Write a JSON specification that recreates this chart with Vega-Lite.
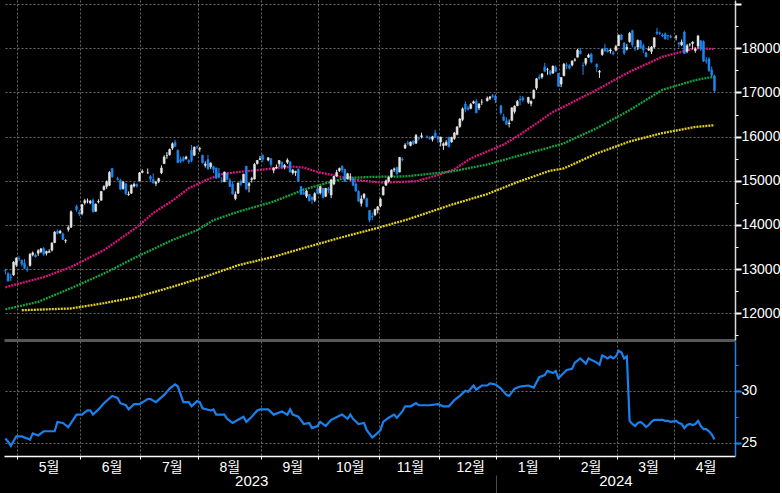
{
"$schema": "https://vega.github.io/schema/vega-lite/v6.json",
"background": "#000000",
"padding": 0,
"spacing": 1,
"bounds": "flush",
"config": {"view": {"stroke": null}, "axis": {"labelFont": "Liberation Sans, Noto Sans CJK KR", "labelColor": "#ffffff", "gridColor": "#6b6b6b", "gridDash": [2, 2], "gridWidth": 1, "labelOverlap": false, "labelBound": false}},
"datasets": {
"candles": [
{"d":"2023-04-24","o":12970,"h":13010,"l":12880,"c":12960},
{"d":"2023-04-25","o":12900,"h":12930,"l":12720,"c":12730},
{"d":"2023-04-26","o":12820,"h":12900,"l":12730,"c":12810},
{"d":"2023-04-27","o":12870,"h":13180,"l":12850,"c":13160},
{"d":"2023-04-28","o":13100,"h":13270,"l":13050,"c":13250},
{"d":"2023-05-01","o":13240,"h":13290,"l":13180,"c":13230},
{"d":"2023-05-02","o":13200,"h":13220,"l":13060,"c":13110},
{"d":"2023-05-03","o":13130,"h":13230,"l":13000,"c":13020},
{"d":"2023-05-04","o":13000,"h":13060,"l":12940,"c":12980},
{"d":"2023-05-05","o":13080,"h":13360,"l":13060,"c":13340},
{"d":"2023-05-08","o":13330,"h":13400,"l":13290,"c":13370},
{"d":"2023-05-09","o":13320,"h":13350,"l":13260,"c":13280},
{"d":"2023-05-10","o":13360,"h":13450,"l":13300,"c":13420},
{"d":"2023-05-11","o":13400,"h":13480,"l":13360,"c":13460},
{"d":"2023-05-12","o":13470,"h":13500,"l":13300,"c":13340},
{"d":"2023-05-15","o":13360,"h":13420,"l":13310,"c":13400},
{"d":"2023-05-16","o":13380,"h":13450,"l":13370,"c":13400},
{"d":"2023-05-17","o":13430,"h":13610,"l":13400,"c":13590},
{"d":"2023-05-18","o":13600,"h":13860,"l":13590,"c":13840},
{"d":"2023-05-19","o":13860,"h":13900,"l":13790,"c":13810},
{"d":"2023-05-22","o":13820,"h":13890,"l":13800,"c":13860},
{"d":"2023-05-23","o":13800,"h":13830,"l":13660,"c":13670},
{"d":"2023-05-24","o":13640,"h":13680,"l":13590,"c":13650},
{"d":"2023-05-25","o":13900,"h":13990,"l":13850,"c":13940},
{"d":"2023-05-26","o":13950,"h":14330,"l":13930,"c":14300},
{"d":"2023-05-30","o":14420,"h":14460,"l":14300,"c":14350},
{"d":"2023-05-31","o":14280,"h":14340,"l":14200,"c":14250},
{"d":"2023-06-01","o":14260,"h":14480,"l":14220,"c":14460},
{"d":"2023-06-02","o":14500,"h":14590,"l":14460,"c":14550},
{"d":"2023-06-05","o":14540,"h":14600,"l":14490,"c":14540},
{"d":"2023-06-06","o":14500,"h":14570,"l":14470,"c":14540},
{"d":"2023-06-07","o":14560,"h":14600,"l":14280,"c":14300},
{"d":"2023-06-08","o":14310,"h":14490,"l":14300,"c":14470},
{"d":"2023-06-09","o":14520,"h":14580,"l":14490,"c":14530},
{"d":"2023-06-12","o":14560,"h":14770,"l":14550,"c":14760},
{"d":"2023-06-13","o":14800,"h":14900,"l":14780,"c":14870},
{"d":"2023-06-14","o":14870,"h":15010,"l":14820,"c":14980},
{"d":"2023-06-15","o":14900,"h":15220,"l":14880,"c":15190},
{"d":"2023-06-16","o":15280,"h":15290,"l":15070,"c":15090},
{"d":"2023-06-20","o":15050,"h":15090,"l":15010,"c":15030},
{"d":"2023-06-21","o":15010,"h":15050,"l":14790,"c":14810},
{"d":"2023-06-22","o":14820,"h":15000,"l":14800,"c":14970},
{"d":"2023-06-23","o":14930,"h":14950,"l":14680,"c":14710},
{"d":"2023-06-26","o":14690,"h":14760,"l":14660,"c":14700},
{"d":"2023-06-27","o":14720,"h":14920,"l":14700,"c":14900},
{"d":"2023-06-28","o":14880,"h":14960,"l":14850,"c":14920},
{"d":"2023-06-29","o":14920,"h":14940,"l":14850,"c":14880},
{"d":"2023-06-30","o":15000,"h":15200,"l":14990,"c":15180},
{"d":"2023-07-03","o":15190,"h":15260,"l":15170,"c":15220},
{"d":"2023-07-05","o":15180,"h":15280,"l":15160,"c":15180},
{"d":"2023-07-06","o":15100,"h":15130,"l":14980,"c":15040},
{"d":"2023-07-07","o":15030,"h":15170,"l":14940,"c":14950},
{"d":"2023-07-10","o":14940,"h":15000,"l":14880,"c":14970},
{"d":"2023-07-11","o":14990,"h":15070,"l":14950,"c":15050},
{"d":"2023-07-12","o":15180,"h":15350,"l":15150,"c":15290},
{"d":"2023-07-13","o":15390,"h":15580,"l":15380,"c":15540},
{"d":"2023-07-14","o":15570,"h":15650,"l":15500,"c":15570},
{"d":"2023-07-17","o":15590,"h":15730,"l":15570,"c":15710},
{"d":"2023-07-18","o":15740,"h":15870,"l":15700,"c":15840},
{"d":"2023-07-19","o":15870,"h":15930,"l":15770,"c":15780},
{"d":"2023-07-20","o":15690,"h":15710,"l":15400,"c":15410},
{"d":"2023-07-21","o":15480,"h":15550,"l":15400,"c":15440},
{"d":"2023-07-24","o":15520,"h":15560,"l":15430,"c":15460},
{"d":"2023-07-25","o":15500,"h":15570,"l":15480,"c":15540},
{"d":"2023-07-26","o":15460,"h":15490,"l":15380,"c":15430},
{"d":"2023-07-27","o":15690,"h":15810,"l":15420,"c":15460},
{"d":"2023-07-28","o":15580,"h":15780,"l":15560,"c":15760},
{"d":"2023-07-31","o":15770,"h":15800,"l":15720,"c":15760},
{"d":"2023-08-01","o":15720,"h":15770,"l":15660,"c":15730},
{"d":"2023-08-02","o":15580,"h":15590,"l":15390,"c":15410},
{"d":"2023-08-03","o":15350,"h":15440,"l":15300,"c":15380},
{"d":"2023-08-04","o":15480,"h":15590,"l":15250,"c":15270},
{"d":"2023-08-07","o":15320,"h":15420,"l":15270,"c":15400},
{"d":"2023-08-08","o":15320,"h":15340,"l":15170,"c":15260},
{"d":"2023-08-09","o":15290,"h":15300,"l":15040,"c":15060},
{"d":"2023-08-10","o":15170,"h":15290,"l":15060,"c":15080},
{"d":"2023-08-11","o":15000,"h":15080,"l":14960,"c":14990},
{"d":"2023-08-14","o":14980,"h":15210,"l":14970,"c":15200},
{"d":"2023-08-15","o":15170,"h":15190,"l":15010,"c":15030},
{"d":"2023-08-16","o":15010,"h":15060,"l":14860,"c":14870},
{"d":"2023-08-17","o":14920,"h":14990,"l":14690,"c":14700},
{"d":"2023-08-18","o":14600,"h":14760,"l":14560,"c":14690},
{"d":"2023-08-21","o":14720,"h":14960,"l":14700,"c":14950},
{"d":"2023-08-22","o":14990,"h":15030,"l":14880,"c":14920},
{"d":"2023-08-23","o":14960,"h":15160,"l":14950,"c":15150},
{"d":"2023-08-24","o":15330,"h":15340,"l":14800,"c":14810},
{"d":"2023-08-25","o":14890,"h":14970,"l":14740,"c":14940},
{"d":"2023-08-28","o":15030,"h":15090,"l":14960,"c":15050},
{"d":"2023-08-29","o":15040,"h":15400,"l":15030,"c":15370},
{"d":"2023-08-30","o":15390,"h":15470,"l":15370,"c":15460},
{"d":"2023-08-31","o":15480,"h":15560,"l":15470,"c":15500},
{"d":"2023-09-01","o":15580,"h":15600,"l":15420,"c":15480},
{"d":"2023-09-05","o":15470,"h":15540,"l":15440,"c":15520},
{"d":"2023-09-06","o":15500,"h":15510,"l":15310,"c":15370},
{"d":"2023-09-07","o":15240,"h":15310,"l":15170,"c":15290},
{"d":"2023-09-08","o":15290,"h":15370,"l":15270,"c":15310},
{"d":"2023-09-11","o":15390,"h":15470,"l":15320,"c":15460},
{"d":"2023-09-12","o":15420,"h":15440,"l":15280,"c":15290},
{"d":"2023-09-13","o":15310,"h":15380,"l":15260,"c":15350},
{"d":"2023-09-14","o":15420,"h":15510,"l":15380,"c":15470},
{"d":"2023-09-15","o":15430,"h":15440,"l":15190,"c":15200},
{"d":"2023-09-18","o":15180,"h":15270,"l":15140,"c":15240},
{"d":"2023-09-19","o":15190,"h":15230,"l":15110,"c":15210},
{"d":"2023-09-20","o":15260,"h":15280,"l":14980,"c":14990},
{"d":"2023-09-21","o":14870,"h":14880,"l":14690,"c":14690},
{"d":"2023-09-22","o":14730,"h":14830,"l":14680,"c":14700},
{"d":"2023-09-25","o":14650,"h":14790,"l":14610,"c":14770},
{"d":"2023-09-26","o":14690,"h":14700,"l":14530,"c":14550},
{"d":"2023-09-27","o":14620,"h":14650,"l":14470,"c":14580},
{"d":"2023-09-28","o":14560,"h":14740,"l":14520,"c":14710},
{"d":"2023-09-29","o":14820,"h":14860,"l":14700,"c":14720},
{"d":"2023-10-02","o":14730,"h":14880,"l":14690,"c":14870},
{"d":"2023-10-03","o":14830,"h":14840,"l":14600,"c":14620},
{"d":"2023-10-04","o":14650,"h":14840,"l":14630,"c":14830},
{"d":"2023-10-05","o":14820,"h":14860,"l":14720,"c":14790},
{"d":"2023-10-06","o":14680,"h":15040,"l":14610,"c":15020},
{"d":"2023-10-09","o":14930,"h":15110,"l":14900,"c":15100},
{"d":"2023-10-10","o":15110,"h":15250,"l":15090,"c":15190},
{"d":"2023-10-11","o":15230,"h":15300,"l":15200,"c":15280},
{"d":"2023-10-12","o":15330,"h":15350,"l":15180,"c":15250},
{"d":"2023-10-13","o":15260,"h":15270,"l":14970,"c":14990},
{"d":"2023-10-16","o":15050,"h":15180,"l":15030,"c":15160},
{"d":"2023-10-17","o":15090,"h":15170,"l":15000,"c":15090},
{"d":"2023-10-18","o":15050,"h":15090,"l":14880,"c":14900},
{"d":"2023-10-19","o":14930,"h":14990,"l":14750,"c":14770},
{"d":"2023-10-20","o":14760,"h":14790,"l":14520,"c":14540},
{"d":"2023-10-23","o":14490,"h":14670,"l":14420,"c":14590},
{"d":"2023-10-24","o":14620,"h":14720,"l":14580,"c":14700},
{"d":"2023-10-25","o":14600,"h":14620,"l":14400,"c":14420},
{"d":"2023-10-26","o":14330,"h":14340,"l":14060,"c":14110},
{"d":"2023-10-27","o":14200,"h":14280,"l":14110,"c":14180},
{"d":"2023-10-30","o":14230,"h":14370,"l":14200,"c":14350},
{"d":"2023-10-31","o":14340,"h":14430,"l":14260,"c":14410},
{"d":"2023-11-01","o":14430,"h":14620,"l":14400,"c":14590},
{"d":"2023-11-02","o":14680,"h":14880,"l":14670,"c":14860},
{"d":"2023-11-03","o":14900,"h":15030,"l":14890,"c":15000},
{"d":"2023-11-06","o":14990,"h":15100,"l":14960,"c":15080},
{"d":"2023-11-07","o":15090,"h":15260,"l":15070,"c":15240},
{"d":"2023-11-08","o":15250,"h":15300,"l":15200,"c":15270},
{"d":"2023-11-09","o":15300,"h":15320,"l":15140,"c":15160},
{"d":"2023-11-10","o":15200,"h":15540,"l":15190,"c":15530},
{"d":"2023-11-13","o":15490,"h":15530,"l":15440,"c":15480},
{"d":"2023-11-14","o":15740,"h":15850,"l":15720,"c":15810},
{"d":"2023-11-15","o":15860,"h":15910,"l":15800,"c":15840},
{"d":"2023-11-16","o":15800,"h":15890,"l":15780,"c":15880},
{"d":"2023-11-17","o":15900,"h":15920,"l":15810,"c":15840},
{"d":"2023-11-20","o":15850,"h":16060,"l":15840,"c":16030},
{"d":"2023-11-21","o":15980,"h":16000,"l":15910,"c":15960},
{"d":"2023-11-22","o":16000,"h":16090,"l":15960,"c":16020},
{"d":"2023-11-24","o":16000,"h":16030,"l":15960,"c":15980},
{"d":"2023-11-27","o":15980,"h":16010,"l":15930,"c":15960},
{"d":"2023-11-28","o":15940,"h":16020,"l":15890,"c":16000},
{"d":"2023-11-29","o":16080,"h":16160,"l":15970,"c":15990},
{"d":"2023-11-30","o":16000,"h":16020,"l":15860,"c":15950},
{"d":"2023-12-01","o":15880,"h":16000,"l":15780,"c":15990},
{"d":"2023-12-04","o":15800,"h":15870,"l":15700,"c":15840},
{"d":"2023-12-05","o":15810,"h":15920,"l":15790,"c":15870},
{"d":"2023-12-06","o":15980,"h":16000,"l":15760,"c":15770},
{"d":"2023-12-07","o":15880,"h":16000,"l":15860,"c":15980},
{"d":"2023-12-08","o":15960,"h":16110,"l":15930,"c":16080},
{"d":"2023-12-11","o":16050,"h":16240,"l":16030,"c":16220},
{"d":"2023-12-12","o":16230,"h":16420,"l":16200,"c":16400},
{"d":"2023-12-13","o":16390,"h":16660,"l":16350,"c":16630},
{"d":"2023-12-14","o":16740,"h":16800,"l":16550,"c":16620},
{"d":"2023-12-15","o":16650,"h":16700,"l":16590,"c":16620},
{"d":"2023-12-18","o":16640,"h":16760,"l":16620,"c":16730},
{"d":"2023-12-19","o":16760,"h":16820,"l":16740,"c":16790},
{"d":"2023-12-20","o":16800,"h":16850,"l":16530,"c":16540},
{"d":"2023-12-21","o":16650,"h":16760,"l":16600,"c":16740},
{"d":"2023-12-22","o":16780,"h":16850,"l":16720,"c":16780},
{"d":"2023-12-26","o":16810,"h":16910,"l":16800,"c":16870},
{"d":"2023-12-27","o":16870,"h":16920,"l":16830,"c":16900},
{"d":"2023-12-28","o":16930,"h":16970,"l":16880,"c":16910},
{"d":"2023-12-29","o":16920,"h":16960,"l":16760,"c":16830},
{"d":"2024-01-02","o":16700,"h":16720,"l":16500,"c":16540},
{"d":"2024-01-03","o":16450,"h":16520,"l":16350,"c":16370},
{"d":"2024-01-04","o":16360,"h":16440,"l":16270,"c":16280},
{"d":"2024-01-05","o":16290,"h":16390,"l":16210,"c":16310},
{"d":"2024-01-08","o":16370,"h":16670,"l":16350,"c":16650},
{"d":"2024-01-09","o":16570,"h":16710,"l":16520,"c":16690},
{"d":"2024-01-10","o":16700,"h":16830,"l":16690,"c":16800},
{"d":"2024-01-11","o":16850,"h":16930,"l":16710,"c":16830},
{"d":"2024-01-12","o":16880,"h":16920,"l":16790,"c":16830},
{"d":"2024-01-16","o":16780,"h":16900,"l":16740,"c":16890},
{"d":"2024-01-17","o":16750,"h":16820,"l":16690,"c":16800},
{"d":"2024-01-18","o":16870,"h":17070,"l":16850,"c":17050},
{"d":"2024-01-19","o":17100,"h":17330,"l":17060,"c":17310},
{"d":"2024-01-22","o":17350,"h":17410,"l":17290,"c":17320},
{"d":"2024-01-23","o":17350,"h":17440,"l":17310,"c":17420},
{"d":"2024-01-24","o":17580,"h":17670,"l":17460,"c":17480},
{"d":"2024-01-25","o":17520,"h":17560,"l":17400,"c":17520},
{"d":"2024-01-26","o":17480,"h":17510,"l":17390,"c":17420},
{"d":"2024-01-29","o":17440,"h":17610,"l":17420,"c":17600},
{"d":"2024-01-30","o":17570,"h":17610,"l":17460,"c":17480},
{"d":"2024-01-31","o":17430,"h":17440,"l":17130,"c":17140},
{"d":"2024-02-01","o":17190,"h":17350,"l":17120,"c":17340},
{"d":"2024-02-02","o":17380,"h":17670,"l":17370,"c":17640},
{"d":"2024-02-05","o":17620,"h":17680,"l":17530,"c":17610},
{"d":"2024-02-06","o":17610,"h":17640,"l":17520,"c":17550},
{"d":"2024-02-07","o":17620,"h":17730,"l":17590,"c":17710},
{"d":"2024-02-08","o":17730,"h":17780,"l":17700,"c":17740},
{"d":"2024-02-09","o":17800,"h":17990,"l":17790,"c":17960},
{"d":"2024-02-12","o":17940,"h":18010,"l":17860,"c":17880},
{"d":"2024-02-13","o":17610,"h":17680,"l":17400,"c":17600},
{"d":"2024-02-14","o":17660,"h":17780,"l":17610,"c":17770},
{"d":"2024-02-15","o":17800,"h":17880,"l":17780,"c":17850},
{"d":"2024-02-16","o":17870,"h":17900,"l":17660,"c":17690},
{"d":"2024-02-20","o":17640,"h":17660,"l":17460,"c":17580},
{"d":"2024-02-21","o":17460,"h":17510,"l":17330,"c":17480},
{"d":"2024-02-22","o":17860,"h":17990,"l":17830,"c":17970},
{"d":"2024-02-23","o":18000,"h":18100,"l":17920,"c":17940},
{"d":"2024-02-26","o":17960,"h":18010,"l":17900,"c":17920},
{"d":"2024-02-27","o":17940,"h":17990,"l":17880,"c":17960},
{"d":"2024-02-28","o":17900,"h":17940,"l":17840,"c":17870},
{"d":"2024-02-29","o":17960,"h":18080,"l":17930,"c":18040},
{"d":"2024-03-01","o":18060,"h":18310,"l":18050,"c":18300},
{"d":"2024-03-04","o":18300,"h":18330,"l":18180,"c":18200},
{"d":"2024-03-05","o":18120,"h":18140,"l":17850,"c":17890},
{"d":"2024-03-06","o":17980,"h":18100,"l":17950,"c":18020},
{"d":"2024-03-07","o":18150,"h":18370,"l":18130,"c":18340},
{"d":"2024-03-08","o":18400,"h":18420,"l":18020,"c":18080},
{"d":"2024-03-11","o":18020,"h":18050,"l":17940,"c":17990},
{"d":"2024-03-12","o":18030,"h":18200,"l":17960,"c":18180},
{"d":"2024-03-13","o":18170,"h":18190,"l":17990,"c":18010},
{"d":"2024-03-14","o":18060,"h":18110,"l":17890,"c":17960},
{"d":"2024-03-15","o":17900,"h":17920,"l":17790,"c":17810},
{"d":"2024-03-18","o":17960,"h":18050,"l":17940,"c":17990},
{"d":"2024-03-19","o":17930,"h":18050,"l":17870,"c":18030},
{"d":"2024-03-20","o":18030,"h":18250,"l":18000,"c":18240},
{"d":"2024-03-21","o":18370,"h":18460,"l":18300,"c":18340},
{"d":"2024-03-22","o":18350,"h":18380,"l":18300,"c":18340},
{"d":"2024-03-25","o":18300,"h":18340,"l":18250,"c":18280},
{"d":"2024-03-26","o":18330,"h":18360,"l":18200,"c":18210},
{"d":"2024-03-27","o":18290,"h":18300,"l":18190,"c":18280},
{"d":"2024-03-28","o":18270,"h":18310,"l":18230,"c":18250},
{"d":"2024-04-01","o":18250,"h":18300,"l":18180,"c":18260},
{"d":"2024-04-02","o":18120,"h":18140,"l":18020,"c":18100},
{"d":"2024-04-03","o":18080,"h":18200,"l":18050,"c":18140},
{"d":"2024-04-04","o":18370,"h":18400,"l":17870,"c":17880},
{"d":"2024-04-05","o":17930,"h":18100,"l":17890,"c":18060},
{"d":"2024-04-08","o":18080,"h":18120,"l":18040,"c":18080},
{"d":"2024-04-09","o":18110,"h":18160,"l":17980,"c":18140},
{"d":"2024-04-10","o":17950,"h":18020,"l":17900,"c":17990},
{"d":"2024-04-11","o":18050,"h":18300,"l":17990,"c":18280},
{"d":"2024-04-12","o":18170,"h":18190,"l":17940,"c":17990},
{"d":"2024-04-15","o":18150,"h":18180,"l":17690,"c":17710},
{"d":"2024-04-16","o":17720,"h":17800,"l":17650,"c":17710},
{"d":"2024-04-17","o":17760,"h":17800,"l":17470,"c":17490},
{"d":"2024-04-18","o":17510,"h":17590,"l":17370,"c":17390},
{"d":"2024-04-19","o":17370,"h":17400,"l":16990,"c":17040}
],
"ma": [
{"d":"2023-04-24","s":"50","v":12590},{"d":"2023-05-12","s":"50","v":12820},{"d":"2023-05-26","s":"50","v":13050},{"d":"2023-06-13","s":"50","v":13430},{"d":"2023-06-29","s":"50","v":13950},{"d":"2023-07-07","s":"50","v":14270},{"d":"2023-07-18","s":"50","v":14550},{"d":"2023-07-26","s":"50","v":14830},{"d":"2023-08-03","s":"50","v":15010},{"d":"2023-08-11","s":"50","v":15150},{"d":"2023-08-21","s":"50","v":15200},{"d":"2023-09-07","s":"50","v":15280},{"d":"2023-09-18","s":"50","v":15320},{"d":"2023-09-22","s":"50","v":15300},{"d":"2023-09-29","s":"50","v":15200},{"d":"2023-10-10","s":"50","v":15110},{"d":"2023-10-18","s":"50","v":15030},{"d":"2023-10-27","s":"50","v":14980},{"d":"2023-11-02","s":"50","v":14960},{"d":"2023-11-20","s":"50","v":14990},{"d":"2023-11-30","s":"50","v":15130},{"d":"2023-12-08","s":"50","v":15260},{"d":"2023-12-18","s":"50","v":15510},{"d":"2024-01-03","s":"50","v":15820},{"d":"2024-01-11","s":"50","v":16050},{"d":"2024-01-19","s":"50","v":16300},{"d":"2024-01-29","s":"50","v":16560},{"d":"2024-02-02","s":"50","v":16680},{"d":"2024-02-20","s":"50","v":17060},{"d":"2024-03-07","s":"50","v":17470},{"d":"2024-03-25","s":"50","v":17810},{"d":"2024-04-03","s":"50","v":17920},{"d":"2024-04-10","s":"50","v":18000},{"d":"2024-04-19","s":"50","v":17985},
{"d":"2023-04-24","s":"100","v":12090},{"d":"2023-05-10","s":"100","v":12260},{"d":"2023-05-26","s":"100","v":12570},{"d":"2023-06-13","s":"100","v":12900},{"d":"2023-06-29","s":"100","v":13280},{"d":"2023-07-18","s":"100","v":13660},{"d":"2023-07-31","s":"100","v":13880},{"d":"2023-08-08","s":"100","v":14110},{"d":"2023-08-21","s":"100","v":14300},{"d":"2023-09-07","s":"100","v":14530},{"d":"2023-09-22","s":"100","v":14800},{"d":"2023-10-06","s":"100","v":14980},{"d":"2023-10-13","s":"100","v":15060},{"d":"2023-10-27","s":"100","v":15090},{"d":"2023-11-14","s":"100","v":15100},{"d":"2023-12-07","s":"100","v":15210},{"d":"2023-12-26","s":"100","v":15370},{"d":"2024-01-10","s":"100","v":15560},{"d":"2024-01-26","s":"100","v":15760},{"d":"2024-02-02","s":"100","v":15850},{"d":"2024-02-20","s":"100","v":16190},{"d":"2024-03-07","s":"100","v":16600},{"d":"2024-03-25","s":"100","v":17060},{"d":"2024-04-10","s":"100","v":17280},{"d":"2024-04-19","s":"100","v":17360},
{"d":"2023-05-02","s":"200","v":12070},{"d":"2023-05-26","s":"200","v":12110},{"d":"2023-06-13","s":"200","v":12230},{"d":"2023-06-29","s":"200","v":12370},{"d":"2023-07-18","s":"200","v":12600},{"d":"2023-08-03","s":"200","v":12830},{"d":"2023-08-21","s":"200","v":13090},{"d":"2023-09-07","s":"200","v":13280},{"d":"2023-09-22","s":"200","v":13480},{"d":"2023-10-10","s":"200","v":13690},{"d":"2023-10-27","s":"200","v":13900},{"d":"2023-11-14","s":"200","v":14110},{"d":"2023-11-20","s":"200","v":14190},{"d":"2023-12-07","s":"200","v":14460},{"d":"2023-12-26","s":"200","v":14700},{"d":"2024-01-10","s":"200","v":14970},{"d":"2024-01-26","s":"200","v":15230},{"d":"2024-02-02","s":"200","v":15280},{"d":"2024-02-20","s":"200","v":15620},{"d":"2024-03-07","s":"200","v":15890},{"d":"2024-03-25","s":"200","v":16080},{"d":"2024-04-10","s":"200","v":16220},{"d":"2024-04-19","s":"200","v":16260}
],
"pe": [
{"d":"2023-04-24","v":25.4},{"d":"2023-04-25","v":25.1},{"d":"2023-04-26","v":24.7},{"d":"2023-04-28","v":25.6},{"d":"2023-05-02","v":25.6},{"d":"2023-05-05","v":25.3},{"d":"2023-05-08","v":25.9},{"d":"2023-05-10","v":25.7},{"d":"2023-05-12","v":26.1},{"d":"2023-05-18","v":26.1},{"d":"2023-05-19","v":27.0},{"d":"2023-05-23","v":26.9},{"d":"2023-05-25","v":26.5},{"d":"2023-05-30","v":27.7},{"d":"2023-06-01","v":27.7},{"d":"2023-06-05","v":28.1},{"d":"2023-06-06","v":28.1},{"d":"2023-06-07","v":27.7},{"d":"2023-06-09","v":28.2},{"d":"2023-06-13","v":28.8},{"d":"2023-06-16","v":29.5},{"d":"2023-06-20","v":29.3},{"d":"2023-06-21","v":28.8},{"d":"2023-06-23","v":28.6},{"d":"2023-06-26","v":28.2},{"d":"2023-06-28","v":28.7},{"d":"2023-06-30","v":28.7},{"d":"2023-07-05","v":29.2},{"d":"2023-07-06","v":29.2},{"d":"2023-07-10","v":28.9},{"d":"2023-07-13","v":29.6},{"d":"2023-07-17","v":30.2},{"d":"2023-07-19","v":30.6},{"d":"2023-07-20","v":30.4},{"d":"2023-07-24","v":28.9},{"d":"2023-07-26","v":28.9},{"d":"2023-07-27","v":28.5},{"d":"2023-07-31","v":29.0},{"d":"2023-08-01","v":28.9},{"d":"2023-08-02","v":28.3},{"d":"2023-08-07","v":28.1},{"d":"2023-08-08","v":28.2},{"d":"2023-08-09","v":27.7},{"d":"2023-08-14","v":27.7},{"d":"2023-08-15","v":27.3},{"d":"2023-08-17","v":26.9},{"d":"2023-08-21","v":27.2},{"d":"2023-08-23","v":27.5},{"d":"2023-08-24","v":27.0},{"d":"2023-08-28","v":27.5},{"d":"2023-08-30","v":28.1},{"d":"2023-08-31","v":28.2},{"d":"2023-09-05","v":28.2},{"d":"2023-09-07","v":27.7},{"d":"2023-09-12","v":28.0},{"d":"2023-09-14","v":27.7},{"d":"2023-09-15","v":28.2},{"d":"2023-09-18","v":27.7},{"d":"2023-09-20","v":27.5},{"d":"2023-09-22","v":26.8},{"d":"2023-09-26","v":26.9},{"d":"2023-09-27","v":26.4},{"d":"2023-09-29","v":26.6},{"d":"2023-10-02","v":27.0},{"d":"2023-10-04","v":26.6},{"d":"2023-10-06","v":27.2},{"d":"2023-10-11","v":27.6},{"d":"2023-10-12","v":27.7},{"d":"2023-10-16","v":27.3},{"d":"2023-10-17","v":27.7},{"d":"2023-10-18","v":27.3},{"d":"2023-10-20","v":26.8},{"d":"2023-10-24","v":26.9},{"d":"2023-10-25","v":26.2},{"d":"2023-10-27","v":25.5},{"d":"2023-10-30","v":25.7},{"d":"2023-11-01","v":26.2},{"d":"2023-11-02","v":27.0},{"d":"2023-11-06","v":27.4},{"d":"2023-11-08","v":27.7},{"d":"2023-11-09","v":27.4},{"d":"2023-11-13","v":28.0},{"d":"2023-11-14","v":28.5},{"d":"2023-11-16","v":28.5},{"d":"2023-11-20","v":28.8},{"d":"2023-11-21","v":28.6},{"d":"2023-11-27","v":28.6},{"d":"2023-11-30","v":28.7},{"d":"2023-12-04","v":28.5},{"d":"2023-12-06","v":28.5},{"d":"2023-12-08","v":29.1},{"d":"2023-12-12","v":29.5},{"d":"2023-12-14","v":30.0},{"d":"2023-12-15","v":29.9},{"d":"2023-12-19","v":30.5},{"d":"2023-12-20","v":30.1},{"d":"2023-12-22","v":30.5},{"d":"2023-12-26","v":30.5},{"d":"2023-12-27","v":30.7},{"d":"2023-12-29","v":30.6},{"d":"2024-01-02","v":30.2},{"d":"2024-01-04","v":29.6},{"d":"2024-01-05","v":29.5},{"d":"2024-01-09","v":30.2},{"d":"2024-01-11","v":30.4},{"d":"2024-01-16","v":30.5},{"d":"2024-01-18","v":30.3},{"d":"2024-01-22","v":31.3},{"d":"2024-01-24","v":31.5},{"d":"2024-01-25","v":31.9},{"d":"2024-01-29","v":31.7},{"d":"2024-01-30","v":31.9},{"d":"2024-01-31","v":31.2},{"d":"2024-02-05","v":32.0},{"d":"2024-02-07","v":32.1},{"d":"2024-02-08","v":32.7},{"d":"2024-02-12","v":33.1},{"d":"2024-02-14","v":32.6},{"d":"2024-02-15","v":33.1},{"d":"2024-02-20","v":32.7},{"d":"2024-02-21","v":32.5},{"d":"2024-02-22","v":33.4},{"d":"2024-02-26","v":33.1},{"d":"2024-02-27","v":33.3},{"d":"2024-02-28","v":33.1},{"d":"2024-02-29","v":33.3},{"d":"2024-03-01","v":33.85},{"d":"2024-03-04","v":33.7},{"d":"2024-03-05","v":33.1},{"d":"2024-03-06","v":33.3},{"d":"2024-03-07","v":27.1},{"d":"2024-03-08","v":26.8},{"d":"2024-03-11","v":26.6},{"d":"2024-03-12","v":26.9},{"d":"2024-03-13","v":27.0},{"d":"2024-03-14","v":26.8},{"d":"2024-03-15","v":26.5},{"d":"2024-03-18","v":26.7},{"d":"2024-03-19","v":27.0},{"d":"2024-03-20","v":27.2},{"d":"2024-03-21","v":27.2},{"d":"2024-03-22","v":27.2},{"d":"2024-03-25","v":27.2},{"d":"2024-03-26","v":27.1},{"d":"2024-03-27","v":27.1},{"d":"2024-03-28","v":27.0},{"d":"2024-04-01","v":27.1},{"d":"2024-04-02","v":26.9},{"d":"2024-04-03","v":26.8},{"d":"2024-04-04","v":26.4},{"d":"2024-04-05","v":26.7},{"d":"2024-04-08","v":26.8},{"d":"2024-04-09","v":26.7},{"d":"2024-04-10","v":26.8},{"d":"2024-04-11","v":27.1},{"d":"2024-04-12","v":26.6},{"d":"2024-04-15","v":26.3},{"d":"2024-04-16","v":26.3},{"d":"2024-04-17","v":26.1},{"d":"2024-04-18","v":25.8},{"d":"2024-04-19","v":25.3}
]
},
"vconcat": [
{
"width": 731,
"height": 340,
"resolve": {"axis": {"y": "independent"}},
"encoding": {
"x": {"field": "d", "type": "ordinal", "title": null,
"scale": {"type": "band", "paddingInner": 0, "paddingOuter": 0, "domain": ["2023-04-24","2023-04-25","2023-04-26","2023-04-27","2023-04-28","2023-05-01","2023-05-02","2023-05-03","2023-05-04","2023-05-05","2023-05-08","2023-05-09","2023-05-10","2023-05-11","2023-05-12","2023-05-15","2023-05-16","2023-05-17","2023-05-18","2023-05-19","2023-05-22","2023-05-23","2023-05-24","2023-05-25","2023-05-26","2023-05-29","2023-05-30","2023-05-31","2023-06-01","2023-06-02","2023-06-05","2023-06-06","2023-06-07","2023-06-08","2023-06-09","2023-06-12","2023-06-13","2023-06-14","2023-06-15","2023-06-16","2023-06-19","2023-06-20","2023-06-21","2023-06-22","2023-06-23","2023-06-26","2023-06-27","2023-06-28","2023-06-29","2023-06-30","2023-07-03","2023-07-04","2023-07-05","2023-07-06","2023-07-07","2023-07-10","2023-07-11","2023-07-12","2023-07-13","2023-07-14","2023-07-17","2023-07-18","2023-07-19","2023-07-20","2023-07-21","2023-07-24","2023-07-25","2023-07-26","2023-07-27","2023-07-28","2023-07-31","2023-08-01","2023-08-02","2023-08-03","2023-08-04","2023-08-07","2023-08-08","2023-08-09","2023-08-10","2023-08-11","2023-08-14","2023-08-15","2023-08-16","2023-08-17","2023-08-18","2023-08-21","2023-08-22","2023-08-23","2023-08-24","2023-08-25","2023-08-28","2023-08-29","2023-08-30","2023-08-31","2023-09-01","2023-09-04","2023-09-05","2023-09-06","2023-09-07","2023-09-08","2023-09-11","2023-09-12","2023-09-13","2023-09-14","2023-09-15","2023-09-18","2023-09-19","2023-09-20","2023-09-21","2023-09-22","2023-09-25","2023-09-26","2023-09-27","2023-09-28","2023-09-29","2023-10-02","2023-10-03","2023-10-04","2023-10-05","2023-10-06","2023-10-09","2023-10-10","2023-10-11","2023-10-12","2023-10-13","2023-10-16","2023-10-17","2023-10-18","2023-10-19","2023-10-20","2023-10-23","2023-10-24","2023-10-25","2023-10-26","2023-10-27","2023-10-30","2023-10-31","2023-11-01","2023-11-02","2023-11-03","2023-11-06","2023-11-07","2023-11-08","2023-11-09","2023-11-10","2023-11-13","2023-11-14","2023-11-15","2023-11-16","2023-11-17","2023-11-20","2023-11-21","2023-11-22","2023-11-23","2023-11-24","2023-11-27","2023-11-28","2023-11-29","2023-11-30","2023-12-01","2023-12-04","2023-12-05","2023-12-06","2023-12-07","2023-12-08","2023-12-11","2023-12-12","2023-12-13","2023-12-14","2023-12-15","2023-12-18","2023-12-19","2023-12-20","2023-12-21","2023-12-22","2023-12-25","2023-12-26","2023-12-27","2023-12-28","2023-12-29","2024-01-01","2024-01-02","2024-01-03","2024-01-04","2024-01-05","2024-01-08","2024-01-09","2024-01-10","2024-01-11","2024-01-12","2024-01-15","2024-01-16","2024-01-17","2024-01-18","2024-01-19","2024-01-22","2024-01-23","2024-01-24","2024-01-25","2024-01-26","2024-01-29","2024-01-30","2024-01-31","2024-02-01","2024-02-02","2024-02-05","2024-02-06","2024-02-07","2024-02-08","2024-02-09","2024-02-12","2024-02-13","2024-02-14","2024-02-15","2024-02-16","2024-02-19","2024-02-20","2024-02-21","2024-02-22","2024-02-23","2024-02-26","2024-02-27","2024-02-28","2024-02-29","2024-03-01","2024-03-04","2024-03-05","2024-03-06","2024-03-07","2024-03-08","2024-03-11","2024-03-12","2024-03-13","2024-03-14","2024-03-15","2024-03-18","2024-03-19","2024-03-20","2024-03-21","2024-03-22","2024-03-25","2024-03-26","2024-03-27","2024-03-28","2024-03-29","2024-04-01","2024-04-02","2024-04-03","2024-04-04","2024-04-05","2024-04-08","2024-04-09","2024-04-10","2024-04-11","2024-04-12","2024-04-15","2024-04-16","2024-04-17","2024-04-18","2024-04-19","2024-04-22","2024-04-23","2024-04-24","2024-04-25","2024-04-26","2024-04-29","2024-04-30"]},
"axis": {"orient": "bottom", "values": ["2023-05-01","2023-06-01","2023-07-03","2023-08-01","2023-09-01","2023-10-02","2023-11-01","2023-12-01","2024-01-01","2024-02-01","2024-03-01","2024-04-01"], "bandPosition": 0, "labels": false, "ticks": false, "domain": true, "domainColor": "#575757", "domainWidth": 3, "grid": true, "title": null}}
},
"layer": [
{"data": {"name": "ma"}, "mark": {"type": "line", "strokeWidth": 2.3, "strokeDash": [2, 1]},
"encoding": {
"y": {"field": "v", "type": "quantitative", "title": null, "scale": {"domain": [11396, 19094], "nice": false, "zero": false},
"axis": {"orient": "right", "title": null, "values": [12000,13000,14000,15000,16000,17000,18000], "format": "d", "labelFontSize": 14, "labelPadding": 0, "domainColor": "#d9d9d9", "domainWidth": 1.5, "tickColor": "#ffffff", "tickWidth": 2, "tickSize": 6, "grid": true}},
"color": {"field": "s", "type": "nominal", "legend": null, "scale": {"domain": ["50","100","200"], "range": ["#d8147f","#16a23e","#e2d21c"]}}
}},
{"data": {"name": "candles"}, "mark": {"type": "rule", "strokeWidth": 1},
"encoding": {
"y": {"field": "l", "type": "quantitative", "title": null, "scale": {"domain": [11396, 19094], "nice": false, "zero": false},
"axis": {"orient": "right", "title": null, "values": [11500,12500,13500,14500,15500,16500,17500,18500], "labels": false, "domain": false, "tickColor": "#ffffff", "tickWidth": 1, "tickSize": 3, "grid": false}},
"y2": {"field": "h"},
"color": {"condition": {"test": "datum.c >= datum.o", "value": "#e6e6e6"}, "value": "#1f87ee"}
}},
{"data": {"name": "candles"}, "mark": {"type": "bar", "width": {"band": 0.72}, "strokeWidth": 0.5},
"encoding": {
"y": {"field": "o", "type": "quantitative", "title": null, "scale": {"domain": [11396, 19094], "nice": false, "zero": false},
"axis": {"orient": "right", "title": null, "values": [19000], "labels": false, "domain": false, "tickColor": "#ffffff", "tickWidth": 2, "tickSize": 6, "grid": true}},
"y2": {"field": "c"},
"fill": {"condition": {"test": "datum.c >= datum.o", "value": "#e6e6e6"}, "value": "#1f87ee"},
"stroke": {"condition": {"test": "datum.c >= datum.o", "value": "#e6e6e6"}, "value": "#1f87ee"}
}}
]
},
{
"width": 731,
"height": 115,
"data": {"name": "pe"},
"resolve": {"axis": {"x": "independent", "y": "independent"}},
"layer": [
{"mark": {"type": "line", "strokeWidth": 2.2, "color": "#1a80ec"},
"encoding": {
"x": {"field": "d", "type": "ordinal", "title": null,
"scale": {"type": "band", "paddingInner": 0, "paddingOuter": 0, "domain": ["2023-04-24","2023-04-25","2023-04-26","2023-04-27","2023-04-28","2023-05-01","2023-05-02","2023-05-03","2023-05-04","2023-05-05","2023-05-08","2023-05-09","2023-05-10","2023-05-11","2023-05-12","2023-05-15","2023-05-16","2023-05-17","2023-05-18","2023-05-19","2023-05-22","2023-05-23","2023-05-24","2023-05-25","2023-05-26","2023-05-29","2023-05-30","2023-05-31","2023-06-01","2023-06-02","2023-06-05","2023-06-06","2023-06-07","2023-06-08","2023-06-09","2023-06-12","2023-06-13","2023-06-14","2023-06-15","2023-06-16","2023-06-19","2023-06-20","2023-06-21","2023-06-22","2023-06-23","2023-06-26","2023-06-27","2023-06-28","2023-06-29","2023-06-30","2023-07-03","2023-07-04","2023-07-05","2023-07-06","2023-07-07","2023-07-10","2023-07-11","2023-07-12","2023-07-13","2023-07-14","2023-07-17","2023-07-18","2023-07-19","2023-07-20","2023-07-21","2023-07-24","2023-07-25","2023-07-26","2023-07-27","2023-07-28","2023-07-31","2023-08-01","2023-08-02","2023-08-03","2023-08-04","2023-08-07","2023-08-08","2023-08-09","2023-08-10","2023-08-11","2023-08-14","2023-08-15","2023-08-16","2023-08-17","2023-08-18","2023-08-21","2023-08-22","2023-08-23","2023-08-24","2023-08-25","2023-08-28","2023-08-29","2023-08-30","2023-08-31","2023-09-01","2023-09-04","2023-09-05","2023-09-06","2023-09-07","2023-09-08","2023-09-11","2023-09-12","2023-09-13","2023-09-14","2023-09-15","2023-09-18","2023-09-19","2023-09-20","2023-09-21","2023-09-22","2023-09-25","2023-09-26","2023-09-27","2023-09-28","2023-09-29","2023-10-02","2023-10-03","2023-10-04","2023-10-05","2023-10-06","2023-10-09","2023-10-10","2023-10-11","2023-10-12","2023-10-13","2023-10-16","2023-10-17","2023-10-18","2023-10-19","2023-10-20","2023-10-23","2023-10-24","2023-10-25","2023-10-26","2023-10-27","2023-10-30","2023-10-31","2023-11-01","2023-11-02","2023-11-03","2023-11-06","2023-11-07","2023-11-08","2023-11-09","2023-11-10","2023-11-13","2023-11-14","2023-11-15","2023-11-16","2023-11-17","2023-11-20","2023-11-21","2023-11-22","2023-11-23","2023-11-24","2023-11-27","2023-11-28","2023-11-29","2023-11-30","2023-12-01","2023-12-04","2023-12-05","2023-12-06","2023-12-07","2023-12-08","2023-12-11","2023-12-12","2023-12-13","2023-12-14","2023-12-15","2023-12-18","2023-12-19","2023-12-20","2023-12-21","2023-12-22","2023-12-25","2023-12-26","2023-12-27","2023-12-28","2023-12-29","2024-01-01","2024-01-02","2024-01-03","2024-01-04","2024-01-05","2024-01-08","2024-01-09","2024-01-10","2024-01-11","2024-01-12","2024-01-15","2024-01-16","2024-01-17","2024-01-18","2024-01-19","2024-01-22","2024-01-23","2024-01-24","2024-01-25","2024-01-26","2024-01-29","2024-01-30","2024-01-31","2024-02-01","2024-02-02","2024-02-05","2024-02-06","2024-02-07","2024-02-08","2024-02-09","2024-02-12","2024-02-13","2024-02-14","2024-02-15","2024-02-16","2024-02-19","2024-02-20","2024-02-21","2024-02-22","2024-02-23","2024-02-26","2024-02-27","2024-02-28","2024-02-29","2024-03-01","2024-03-04","2024-03-05","2024-03-06","2024-03-07","2024-03-08","2024-03-11","2024-03-12","2024-03-13","2024-03-14","2024-03-15","2024-03-18","2024-03-19","2024-03-20","2024-03-21","2024-03-22","2024-03-25","2024-03-26","2024-03-27","2024-03-28","2024-03-29","2024-04-01","2024-04-02","2024-04-03","2024-04-04","2024-04-05","2024-04-08","2024-04-09","2024-04-10","2024-04-11","2024-04-12","2024-04-15","2024-04-16","2024-04-17","2024-04-18","2024-04-19","2024-04-22","2024-04-23","2024-04-24","2024-04-25","2024-04-26","2024-04-29","2024-04-30"]},
"axis": {"orient": "bottom", "values": ["2023-05-01","2023-06-01","2023-07-03","2023-08-01","2023-09-01","2023-10-02","2023-11-01","2023-12-01","2024-01-01","2024-02-01","2024-03-01","2024-04-01"], "bandPosition": 0, "labelExpr": "toNumber(substring(datum.value, 5, 7)) + '월'", "labelOffset": 30, "labelAngle": 0, "labelFontSize": 14, "labelPadding": 1, "ticks": true, "tickSize": 3, "tickColor": "#ffffff", "domain": true, "domainColor": "#ffffff", "domainWidth": 1.5, "grid": true, "title": null}},
"y": {"field": "v", "type": "quantitative", "title": null, "scale": {"domain": [23.72, 34.78], "nice": false, "zero": false},
"axis": {"orient": "right", "title": null, "values": [25, 30], "format": "d", "labelFontSize": 14, "labelPadding": 0, "domainColor": "#1f87ee", "domainWidth": 1.5, "tickColor": "#1f87ee", "tickWidth": 2, "tickSize": 6, "grid": true}}
}},
{"mark": {"type": "line", "strokeOpacity": 0},
"encoding": {
"x": {"field": "d", "type": "ordinal", "title": null, "scale": {"type": "band", "paddingInner": 0, "paddingOuter": 0},
"axis": {"orient": "bottom", "values": ["2023-08-28","2024-02-29"], "bandPosition": 0.5, "labelExpr": "substring(datum.value, 0, 4)", "labelAngle": 0, "labelFontSize": 15, "labelPadding": 17, "ticks": false, "tickSize": 0, "domain": false, "grid": false, "title": null}},
"y": {"field": "v", "type": "quantitative", "title": null,
"axis": {"orient": "right", "title": null, "values": [27.5, 32.5], "labels": false, "domain": false, "tickColor": "#1f87ee", "tickWidth": 1, "tickSize": 3, "grid": false}}
}},
{"mark": {"type": "line", "strokeOpacity": 0},
"encoding": {
"x": {"field": "d", "type": "ordinal", "title": null, "scale": {"type": "band", "paddingInner": 0, "paddingOuter": 0},
"axis": {"orient": "bottom", "values": ["2024-01-01"], "bandPosition": 0, "labels": false, "ticks": true, "tickSize": 18, "tickColor": "#4a4a4a", "tickWidth": 1, "offset": 19, "domain": false, "grid": false, "title": null}},
"y": {"field": "v", "type": "quantitative", "title": null, "axis": null}
}}
]
}
]
}
